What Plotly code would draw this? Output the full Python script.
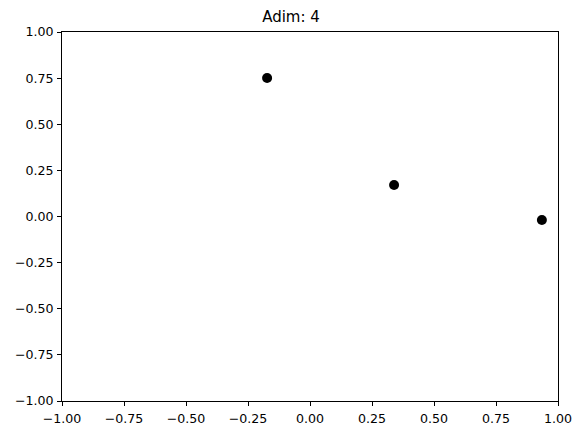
import plotly.graph_objects as go

x_vals = [-0.173, 0.339, 0.935]
y_vals = [0.751, 0.171, -0.019]
tick_vals = [-1.0, -0.75, -0.5, -0.25, 0.0, 0.25, 0.5, 0.75, 1.0]
tick_text = [f"{v:.2f}".replace("-", "\u2212") for v in tick_vals]

fig = go.Figure(go.Scatter(x=x_vals, y=y_vals, mode="markers",
                           marker=dict(color="black", size=10)))

axis_common = dict(range=[-1, 1], tickvals=tick_vals, ticktext=tick_text,
                   showline=True, linecolor="black", linewidth=1, mirror=True,
                   ticks="outside", ticklen=4, tickcolor="black", tickwidth=1,
                   showgrid=False, zeroline=False, automargin=False,
                   tickfont=dict(family="DejaVu Sans", size=12.6, color="black"))

# page body has an 8px default margin; compensate so the plot area lands in place
fig.update_layout(
    width=575, height=427,
    margin=dict(l=54, r=25, t=24, b=34),
    paper_bgcolor="white", plot_bgcolor="white",
    title=dict(text="Adim: 4", x=(291 - 8) / 575, xanchor="center", y=1 - 9 / 427, yanchor="middle",
               font=dict(family="DejaVu Sans", size=15, color="black")),
    xaxis=dict(axis_common, ticklabelstandoff=2),
    yaxis=dict(axis_common, ticklabelstandoff=1),
    showlegend=False,
)
fig.write_html("out.html")
